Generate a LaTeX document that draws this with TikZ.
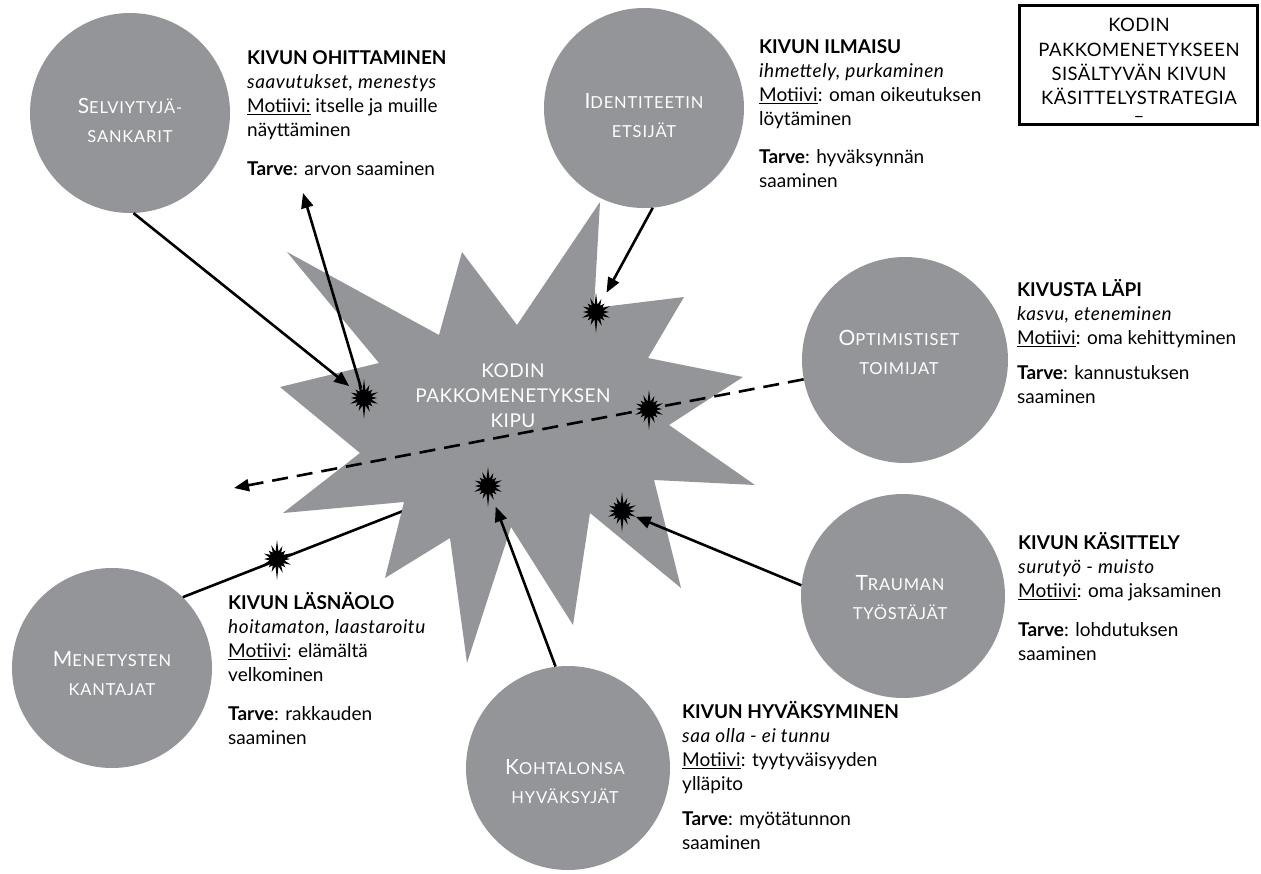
\documentclass[tikz,border=0pt]{standalone}
\usepackage{fontspec}
\setmainfont{Lato}
\newfontfamily\capsfont{Lato}[LetterSpace=2.5]
\newfontfamily\circfont{Lato}[LetterSpace=5]
\newfontfamily\itfam{Lato}[LetterSpace=3]
\usetikzlibrary{arrows.meta}
\definecolor{gr}{HTML}{939598}
\newcommand\blkttl[1]{{\fontsize{19}{24}\selectfont\bfseries #1}}
\newcommand\blkit[1]{{\itfam\itshape #1}}
\newcommand\bigsc[2]{{\fontsize{21}{29}\selectfont #1}{\fontsize{16.5}{29}\selectfont #2}}
\newcommand\smsc[1]{{\fontsize{16.5}{29}\selectfont #1}}
\newcommand\frst{\rule{0pt}{18pt}}
\begin{document}
\begin{tikzpicture}[x=1pt,y=-1pt,
  circ/.style={circle, fill=gr, draw=none, minimum size=200pt, inner sep=0pt},
  ctext/.style={text=white, align=center, inner sep=0pt, font=\circfont\fontsize{16.5}{29}\selectfont},
  blk/.style={anchor=north west, align=left, inner sep=0pt, font=\fontsize{19}{24}\selectfont},
  ln/.style={line width=2.6pt},
  arr/.style={line width=2.6pt, -{Triangle[length=15pt,width=12pt]}},
  dsh/.style={dash pattern=on 16pt off 9pt},
  burst/.pic={\fill[black] (0:13) -- (11.25:7.5) -- (22.5:15) -- (33.75:7.5) -- (45:12) -- (56.25:7.5) -- (67.5:15) -- (78.75:7.5) -- (90:21) -- (101.25:7.5) -- (112.5:14) -- (123.75:7.5) -- (135:12) -- (146.25:7.5) -- (157.5:15) -- (168.75:7.5) -- (180:13) -- (191.25:7.5) -- (202.5:14) -- (213.75:7.5) -- (225:12) -- (236.25:7.5) -- (247.5:15) -- (258.75:7.5) -- (270:19) -- (281.25:7.5) -- (292.5:14) -- (303.75:7.5) -- (315:12) -- (326.25:7.5) -- (337.5:15) -- (348.75:7.5) -- cycle;}
]
\useasboundingbox (0,0) rectangle (1261,873);
\fill[white] (0,0) rectangle (1261,873);

% circles
\node[circ] (selv) at (130,113) {};
\node[circ] (ident) at (644,108) {};
\node[circ, minimum size=206pt] (opt) at (905,360) {};
\node[circ, minimum size=204pt] (trau) at (903,596) {};
\node[circ] (men) at (112,668) {};
\node[circ, minimum size=204pt] (koht) at (568,768) {};

% coordinates
\coordinate (b1) at (364,398);
\coordinate (b2) at (596,312);
\coordinate (b3) at (649,409);
\coordinate (b4) at (488,486);
\coordinate (b5) at (622,511);
\coordinate (b6) at (277,559);
\coordinate (t1) at (303,193);
\coordinate (t3) at (234,488);
\coordinate (e7) at (403,511);

% line from Menetysten (behind star)
\draw[ln] (men.45) -- (e7);

% star
\fill[gr] (287,252) -- (439,335) -- (462,252) -- (517,325) -- (600,202) -- (594,308)
  -- (684,297) -- (648,358) -- (743,377) -- (669,425) -- (755,485) -- (654,480)
  -- (681,588) -- (590,513) -- (573,625) -- (511,527) -- (467,663) -- (450,538)
  -- (385,578) -- (404,502) -- (283,513) -- (360,453) -- (280,387) -- (379,363) -- cycle;
\node[ctext, font=\capsfont\fontsize{19}{25}\selectfont] (kipu) at (513,396) {KODIN\\PAKKOMENETYKSEN\\KIPU};

% connectors
\draw[arr, shorten >=19pt] (selv.-88) -- (b1);
\draw[arr, shorten <=10pt] (b1) -- (t1);
\draw[arr, shorten >=22pt] (ident.-85) -- (b2);
\draw[arr, dsh] (opt) -- (t3);
\draw[arr, shorten >=15pt] (trau.174) -- (b5);
\draw[arr, shorten >=22pt] (koht.97) -- (b4);

% bursts
\pic at (b1) {burst};
\pic at (b2) {burst};
\pic at (b3) {burst};
\pic at (b4) {burst};
\pic at (b5) {burst};
\pic at (b6) {burst};

% circle texts
\node[ctext] (selvt) at (130,120) {\bigsc{S}{ELVIYTYJÄ-}\\\smsc{SANKARIT}};
\node[ctext] (identt) at (644,116) {\bigsc{I}{DENTITEETIN}\\\smsc{ETSIJÄT}};
\node[ctext] (optt) at (899,352) {\bigsc{O}{PTIMISTISET}\\\smsc{TOIMIJAT}};
\node[ctext] (traut) at (900,598) {\bigsc{T}{RAUMAN}\\\smsc{TYÖSTÄJÄT}};
\node[ctext] (ment) at (112,674) {\bigsc{M}{ENETYSTEN}\\\smsc{KANTAJAT}};
\node[ctext] (kohtt) at (565,782) {\bigsc{K}{OHTALONSA}\\\smsc{HYVÄKSYJÄT}};

% text blocks
\node[blk] (tohi) at (247,46) {\frst\blkttl{KIVUN OHITTAMINEN}\\\blkit{saavutukset, menestys}\\\underline{Motiivi:} itselle ja muille\\näyttäminen\\[15pt]\textbf{Tarve}: arvon saaminen};
\node[blk] (tilm) at (759,35) {\frst\blkttl{KIVUN ILMAISU}\\\blkit{ihmettely, purkaminen}\\\underline{Motiivi}: oman oikeutuksen\\löytäminen\\[14pt]\textbf{Tarve}: hyväksynnän\\saaminen};
\node[blk] (tlap) at (1017,278) {\frst\blkttl{KIVUSTA LÄPI}\\\blkit{kasvu, eteneminen}\\\underline{Motiivi}: oma kehittyminen\\[11pt]\textbf{Tarve}: kannustuksen\\saaminen};
\node[blk] (tkas) at (1018,531) {\frst\blkttl{KIVUN KÄSITTELY}\\\blkit{surutyö - muisto}\\\underline{Motiivi}: oma jaksaminen\\[15pt]\textbf{Tarve}: lohdutuksen\\saaminen};
\node[blk] (tlas) at (228,591) {\frst\blkttl{KIVUN LÄSNÄOLO}\\\blkit{hoitamaton, laastaroitu}\\\underline{Motiivi}: elämältä\\velkominen\\[15pt]\textbf{Tarve}: rakkauden\\saaminen};
\node[blk] (thyv) at (682,700) {\frst\blkttl{KIVUN HYVÄKSYMINEN}\\\blkit{saa olla - ei tunnu}\\\underline{Motiivi}: tyytyväisyyden\\ylläpito\\[11pt]\textbf{Tarve}: myötätunnon\\saaminen};

% title box
\node[draw, line width=2.5pt, minimum width=238pt, minimum height=119pt, inner sep=0pt] (box) at (1138.5,65) {};
\node[anchor=north, align=center, inner sep=0pt, font=\capsfont\fontsize{18.5}{24.3}\selectfont] (boxt) at (1139,13.5) {\frst KODIN\\PAKKOMENETYKSEEN\\SISÄLTYVÄN KIVUN\\KÄSITTELYSTRATEGIA\\[-6pt]–};
\end{tikzpicture}
\end{document}
